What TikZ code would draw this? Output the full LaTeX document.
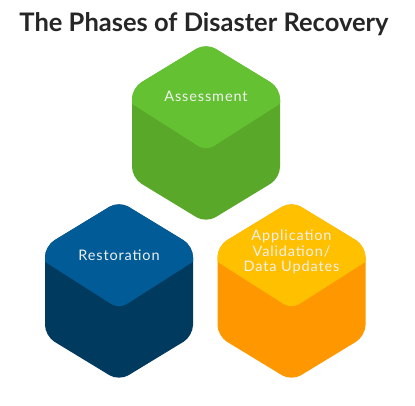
\documentclass[tikz,border=0pt]{standalone}
\usepackage{fontspec}
\setmainfont{Lato}
\newfontfamily\phasefont[LetterSpace=6]{Lato}
\usepackage{tikz}
\usetikzlibrary{positioning}
\definecolor{phasegreentop}{HTML}{64C232}
\definecolor{phasegreenside}{HTML}{59A82A}
\definecolor{phasebluetop}{HTML}{005B96}
\definecolor{phaseblueside}{HTML}{003A5E}
\definecolor{phaseorangetop}{HTML}{FFC000}
\definecolor{phaseorangeside}{HTML}{FF9800}

% #1 centre, #2 top face colour, #3 side colour
\newcommand{\phasecube}[3]{%
  \begin{scope}[shift={(#1)}]
    \path[clip, rounded corners=11pt] (-74,0) -- (-74,-45) -- (0,-90) -- (74,-45) -- (74,45) -- (0,90) -- (-74,45) -- cycle;
    \fill[#3] (-80,-100) rectangle (80,100);
    \fill[#2, rounded corners=9pt] (-80,-100) -- (-80,-33) -- (0,18) -- (80,-33) -- (80,-100) -- cycle;
  \end{scope}}

\begin{document}
\begin{tikzpicture}[
    x=1pt, y=-1pt,
    phaselabel/.style={text=white!94!black, align=center, font=\phasefont\fontsize{14.5}{15.5}\selectfont, inner sep=0pt},
    titlelabel/.style={anchor=base, font=\bfseries\fontsize{25.5}{30}\selectfont, text=black!85},
]
\fill[white] (0,0) rectangle (415,405);
\useasboundingbox (0,0) rectangle (415,405);

\node[titlelabel] (title) at (204,31) {The Phases of Disaster Recovery};

\coordinate (assess) at (206,133);
\coordinate (restore) at (119,291);
\coordinate (validate) at (291.5,291);

\phasecube{assess}{phasegreentop}{phasegreenside}
\phasecube{restore}{phasebluetop}{phaseblueside}
\phasecube{validate}{phaseorangetop}{phaseorangeside}

\node[phaselabel] (assesslabel) at ([yshift=37pt]assess) {Assessment};
\node[phaselabel] (restorelabel) at ([yshift=36pt]restore) {Restoration};
\node[phaselabel] (validatelabel) at ([yshift=39pt]validate) {Application\\Validation/\\Data Updates};

\end{tikzpicture}
\end{document}
